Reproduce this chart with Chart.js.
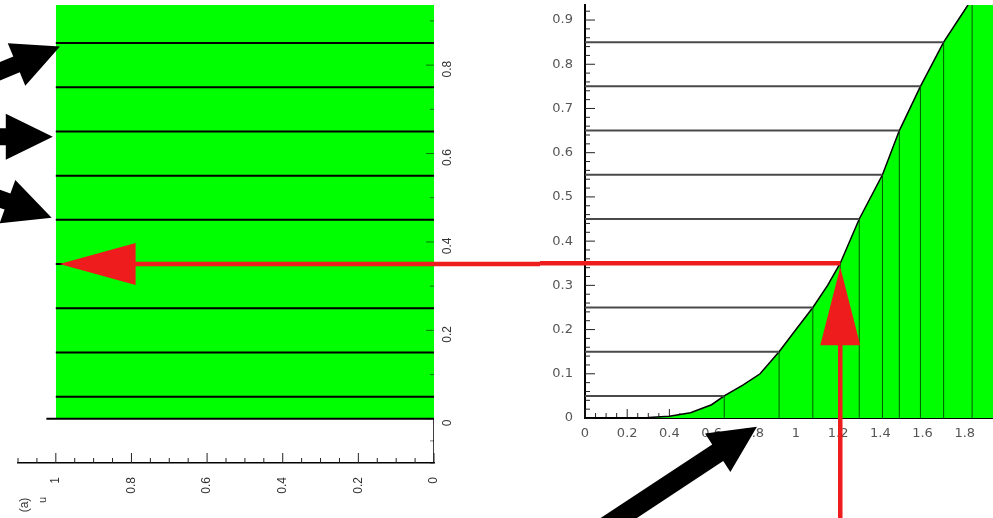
<!DOCTYPE html>
<html><head><meta charset="utf-8">
<script src="https://cdn.jsdelivr.net/npm/chart.js@4.4.1/dist/chart.umd.min.js"></script>
<style>
html,body{margin:0;padding:0;background:#fff;overflow:hidden}
#wrap{position:relative;width:993px;height:518px}
canvas{position:absolute;top:0}
#left{left:0}
#right{left:540px}
</style></head><body>
<div id="wrap"><canvas id="left" width="540" height="518"></canvas><canvas id="right" width="453" height="518"></canvas></div>
<script>
// ---------- data ----------
const curveX = [0, 0.2, 0.3, 0.4, 0.5, 0.6, 0.66, 0.75, 0.83, 0.92, 1.0, 1.08, 1.15, 1.21, 1.30, 1.41, 1.49, 1.59, 1.70, 1.81, 1.835, 2.0];
const curveY = [0, 0, 0.001, 0.004, 0.012, 0.03, 0.05, 0.075, 0.10, 0.15, 0.20, 0.25, 0.30, 0.35, 0.45, 0.55, 0.65, 0.75, 0.85, 0.93, 0.95, 1.0];
const levels = [0.05, 0.15, 0.25, 0.35, 0.45, 0.55, 0.65, 0.75, 0.85, 0.95];
const uniformTop = 1;
const sampleU = 0.35;
const sampleX = 1.21;
const rightXTicks = [0, 0.2, 0.4, 0.6, 0.8, 1, 1.2, 1.4, 1.6, 1.8];
const rightXLabels = ['0', '0.2', '0.4', '0.6', '0.8', '1', '1.2', '1.4', '1.6', '1.8'];
const rightYTicks = [0, 0.1, 0.2, 0.3, 0.4, 0.5, 0.6, 0.7, 0.8, 0.9];
const rightYLabels = ['0', '0.1', '0.2', '0.3', '0.4', '0.5', '0.6', '0.7', '0.8', '0.9'];
const leftXTicks = [0, 0.2, 0.4, 0.6, 0.8, 1];
const leftXLabels = ['0', '0.2', '0.4', '0.6', '0.8', '1'];
const leftYTicks = [0, 0.2, 0.4, 0.6, 0.8];
const leftYLabels = ['0', '0.2', '0.4', '0.6', '0.8'];
const leftArrowTips  = [[0.989, 0.842], [1.008, 0.638], [1.011, 0.455]];
const leftArrowTails = [[1.233, 0.756], [1.272, 0.638], [1.259, 0.532]];
const bottomArrowTip  = [0.815, -0.020];
const bottomArrowTail = [0.024, -0.269];
const redArrowTipU = 0.99;
const subLabel = '(a)';
const axisName = 'u';

// ---------- helpers ----------
const levelX = levels.map(l => curveX[curveY.indexOf(l)]);
function drawArrow(ctx, x1, y1, x2, y2, w, hl, hw, color) {
  const dx = x2 - x1, dy = y2 - y1, L = Math.hypot(dx, dy);
  const ux = dx / L, uy = dy / L, px = -uy, py = ux;
  const bx = x2 - ux * hl, by = y2 - uy * hl;
  ctx.fillStyle = color;
  ctx.beginPath();
  ctx.moveTo(x1 + px * w / 2, y1 + py * w / 2);
  ctx.lineTo(bx + px * w / 2, by + py * w / 2);
  ctx.lineTo(bx + px * hw, by + py * hw);
  ctx.lineTo(x2, y2);
  ctx.lineTo(bx - px * hw, by - py * hw);
  ctx.lineTo(bx - px * w / 2, by - py * w / 2);
  ctx.lineTo(x1 - px * w / 2, y1 - py * w / 2);
  ctx.closePath();
  ctx.fill();
}
function seg(pairs) {
  const out = [];
  pairs.forEach(p => { out.push(p[0], p[1], {x: p[1].x, y: null}); });
  return out;
}
function noPad(s) { s.paddingTop = 0; s.paddingBottom = 0; s.paddingLeft = 0; s.paddingRight = 0; }
const RED = '#ee1c1c';
const GREEN = '#00ff00';

// ---------- left panel ----------
const leftPlugin = {
  id: 'leftDeco',
  afterDatasetsDraw(chart) {
    const {ctx} = chart, xs = chart.scales.x, ys = chart.scales.y;
    ctx.save();
    ctx.strokeStyle = '#222'; ctx.lineWidth = 1;
    const yb = ys.getPixelForValue(ys.min);
    for (let k = 0; k <= 22; k++) {
      const px = xs.getPixelForValue(k * 0.05);
      const len = (k % 4 === 0) ? 10 : 5;
      ctx.beginPath(); ctx.moveTo(px, yb); ctx.lineTo(px, yb - len); ctx.stroke();
    }
    const xr = xs.getPixelForValue(0);
    ctx.strokeStyle = 'rgba(0,0,0,0.55)';
    for (let k = -2; k <= 18; k++) {
      const py = ys.getPixelForValue(k * 0.05);
      const len = (k % 4 === 0) ? 8 : 4;
      ctx.beginPath(); ctx.moveTo(xr, py); ctx.lineTo(xr - len, py); ctx.stroke();
    }
    ctx.restore();
  },
  afterDraw(chart) {
    const {ctx} = chart, xs = chart.scales.x, ys = chart.scales.y;
    ctx.save();
    ctx.fillStyle = '#333';
    ctx.font = '12px "Liberation Sans", Arial, sans-serif';
    ctx.textAlign = 'center'; ctx.textBaseline = 'middle';
    ys.ticks.forEach((t, i) => {
      const py = ys.getPixelForValue(t.value);
      ctx.save(); ctx.translate(448, py + 4); ctx.rotate(-Math.PI / 2);
      ctx.fillText(leftYLabels[i], 0, 0); ctx.restore();
    });
    ctx.save(); ctx.translate(25, 505); ctx.rotate(-Math.PI / 2);
    ctx.fillText(subLabel, 0, 0); ctx.restore();
    ctx.save(); ctx.translate(43, 500); ctx.rotate(-Math.PI / 2);
    ctx.font = '11px "Liberation Sans", Arial, sans-serif';
    ctx.fillText(axisName, 0, 0); ctx.restore();
    const ry = ys.getPixelForValue(sampleU);
    drawArrow(ctx, chart.width + 5, ry, xs.getPixelForValue(redArrowTipU), ry, 4.5, 76, 21, RED);
    leftArrowTips.forEach((tip, i) => {
      const tail = leftArrowTails[i];
      drawArrow(ctx, xs.getPixelForValue(tail[0]), ys.getPixelForValue(tail[1]),
        xs.getPixelForValue(tip[0]), ys.getPixelForValue(tip[1]), 17, 47, 23, '#000');
    });
    ctx.restore();
  }
};

new Chart(document.getElementById('left'), {
  type: 'scatter',
  data: {
    datasets: [
      { data: seg(levels.map(l => [{x: 0, y: l}, {x: 1, y: l}])), showLine: true, borderColor: '#000', borderWidth: 2, pointRadius: 0, spanGaps: false },
      { data: [{x: 1.025, y: 0}, {x: 0, y: 0}], showLine: true, borderColor: '#000', borderWidth: 2, pointRadius: 0 },
      { data: [{x: 0, y: -0.1}, {x: 0, y: 0}], showLine: true, borderColor: '#000', borderWidth: 1.5, pointRadius: 0 },
      { data: [{x: 0, y: uniformTop}, {x: 1, y: uniformTop}], showLine: true, borderWidth: 0, borderColor: GREEN, backgroundColor: GREEN, fill: 'origin', pointRadius: 0 }
    ]
  },
  options: {
    responsive: false, animation: false, devicePixelRatio: 1,
    layout: { padding: { left: 18, top: 5, right: 0, bottom: 0 } },
    plugins: { legend: { display: false }, tooltip: { enabled: false } },
    scales: {
      x: {
        type: 'linear', reverse: true, min: 0, max: 1.1, position: 'bottom',
        afterBuildTicks: s => { s.ticks = leftXTicks.map(v => ({value: v})); },
        afterFit: s => { s.height = 55; noPad(s); },
        ticks: { minRotation: 90, maxRotation: 90, autoSkip: false, padding: 14, color: '#333',
          callback: (v, i) => leftXLabels[i],
          font: { family: '"Liberation Sans", Arial, sans-serif', size: 12 } },
        grid: { display: false, drawTicks: false },
        border: { display: true, color: '#000', width: 1.5 }
      },
      y: {
        type: 'linear', position: 'right', min: -0.1, max: 0.936,
        afterBuildTicks: s => { s.ticks = leftYTicks.map(v => ({value: v})); },
        afterFit: s => { s.width = 106; noPad(s); },
        ticks: { display: false },
        grid: { display: false, drawTicks: false },
        border: { display: false }
      }
    }
  },
  plugins: [leftPlugin]
});

// ---------- right panel ----------
const rightPlugin = {
  id: 'rightDeco',
  beforeDatasetsDraw(chart) {
    const {ctx} = chart, xs = chart.scales.x, ys = chart.scales.y;
    ctx.save();
    ctx.strokeStyle = '#222'; ctx.lineWidth = 1;
    const yb = ys.getPixelForValue(0), xl = xs.getPixelForValue(0);
    for (let k = 0; k <= 38; k++) {
      const px = xs.getPixelForValue(k * 0.05);
      const len = (k % 4 === 0) ? 9 : 5;
      ctx.beginPath(); ctx.moveTo(px, yb); ctx.lineTo(px, yb - len); ctx.stroke();
    }
    for (let k = 0; k <= 46; k++) {
      const py = ys.getPixelForValue(k * 0.02);
      const len = (k % 5 === 0) ? 10 : 5;
      ctx.beginPath(); ctx.moveTo(xl, py); ctx.lineTo(xl + len, py); ctx.stroke();
    }
    ctx.restore();
  },
  afterDraw(chart) {
    const {ctx} = chart, xs = chart.scales.x, ys = chart.scales.y;
    ctx.save();
    const ry = ys.getPixelForValue(sampleU), rx = xs.getPixelForValue(sampleX);
    ctx.strokeStyle = RED; ctx.lineWidth = 4.5;
    ctx.beginPath(); ctx.moveTo(-2, ry); ctx.lineTo(rx, ry); ctx.stroke();
    drawArrow(ctx, rx, chart.height + 5, rx, ry + 4, 4.5, 78, 20, RED);
    drawArrow(ctx, xs.getPixelForValue(bottomArrowTail[0]), ys.getPixelForValue(bottomArrowTail[1]),
      xs.getPixelForValue(bottomArrowTip[0]), ys.getPixelForValue(bottomArrowTip[1]), 20, 47, 23, '#000');
    ctx.restore();
  }
};

new Chart(document.getElementById('right'), {
  type: 'scatter',
  data: {
    datasets: [
      { data: seg(levels.map((l, i) => [{x: 0, y: l}, {x: levelX[i], y: l}])), showLine: true, borderColor: '#4a4a4a', borderWidth: 2, pointRadius: 0, spanGaps: false },
      { data: seg(levels.map((l, i) => [{x: levelX[i], y: 0}, {x: levelX[i], y: l}])), showLine: true, borderColor: 'rgba(0,45,0,0.8)', borderWidth: 1, pointRadius: 0, spanGaps: false },
      { data: curveX.map((x, i) => ({x, y: curveY[i]})), showLine: true, borderColor: '#000', borderWidth: 1.5, backgroundColor: GREEN, fill: 'origin', pointRadius: 0, tension: 0 }
    ]
  },
  options: {
    responsive: false, animation: false, devicePixelRatio: 1,
    layout: { padding: { left: 0, top: 5, right: 0, bottom: 70 } },
    plugins: { legend: { display: false }, tooltip: { enabled: false } },
    scales: {
      x: {
        type: 'linear', min: 0, max: 1.934, z: 1,
        afterBuildTicks: s => { s.ticks = rightXTicks.map(v => ({value: v})); },
        afterFit: s => { s.height = 30; noPad(s); },
        ticks: { minRotation: 0, maxRotation: 0, autoSkip: false, padding: 8, color: '#555',
          callback: (v, i) => rightXLabels[i],
          font: { family: '"DejaVu Sans", sans-serif', size: 13 } },
        grid: { display: false, drawTicks: false },
        border: { display: true, color: '#000', width: 2 }
      },
      y: {
        type: 'linear', min: 0, max: 0.934, z: 1,
        afterBuildTicks: s => { s.ticks = rightYTicks.map(v => ({value: v})); },
        afterFit: s => { s.width = 45; noPad(s); },
        ticks: { autoSkip: false, padding: 12, color: '#555',
          callback: (v, i) => rightYLabels[i],
          font: { family: '"DejaVu Sans", sans-serif', size: 13 } },
        grid: { display: false, drawTicks: false },
        border: { display: true, color: '#000', width: 2 }
      }
    }
  },
  plugins: [rightPlugin]
});
</script>
</body></html>
